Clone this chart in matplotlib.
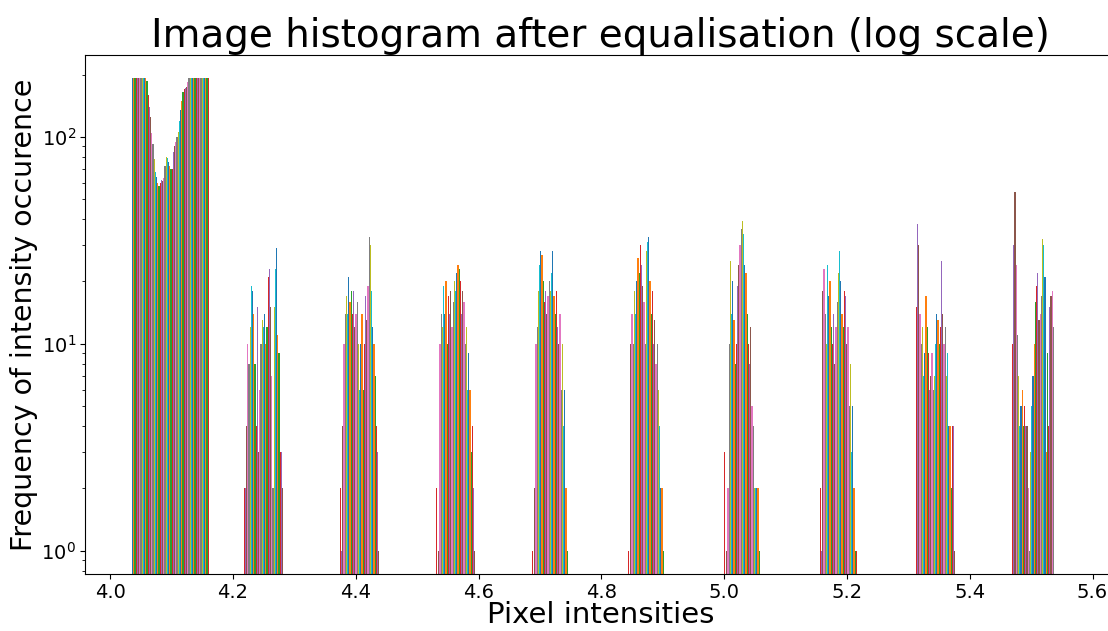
import numpy as np
import matplotlib
matplotlib.use("Agg")
import matplotlib.pyplot as plt

# histogram of the equalised image: one dataset per image column, 10 bins
N_COLS = 64
X_MIN, X_MAX = 4.020, 5.584
N_BINS = 10
FIRST_COL = 13  # bins 1..9 only have counts for the central columns

BIN0 = [192, 192, 192, 192, 192, 192, 192, 192, 192, 192, 192, 192, 186,
        160, 140, 125, 105, 92, 78, 68, 64, 60, 58, 60, 62, 61, 63, 72, 80,
        79, 76, 72, 70, 70, 85, 90, 95, 100, 106, 120, 135, 150, 165, 170,
        172, 174, 185,
        192, 192, 192, 192, 192, 192, 192, 192, 192, 192, 192, 192, 192, 192,
        192, 192, 192]
BIN1 = [2, 2, 4, 10, 8, 12, 19, 18, 14, 8, 4, 15, 3, 6, 10, 13, 12, 14, 10,
        12, 21, 23, 15, 7, 2, 15, 23, 29, 11, 9, 3, 3, 2]
BIN2 = [2, 1, 4, 10, 14, 17, 14, 21, 16, 18, 14, 18, 12, 14, 16, 10, 6, 10,
        14, 6, 10, 17, 13, 19, 33, 30, 18, 12, 10, 7, 4, 3, 1]
BIN3 = [2, 0, 1, 10, 14, 12, 19, 14, 20, 10, 17, 14, 18, 12, 16, 20, 18, 22,
        24, 23, 20, 14, 18, 16, 10, 12, 6, 9, 6, 3, 4, 2, 1]
BIN4 = [1, 0, 2, 10, 12, 18, 24, 28, 27, 20, 16, 18, 14, 17, 20, 18, 22, 28,
        17, 14, 18, 12, 10, 14, 6, 10, 4, 6, 2, 1]
BIN5 = [1, 0, 10, 14, 10, 18, 14, 20, 26, 22, 30, 24, 19, 16, 10, 28, 31, 33,
        20, 14, 18, 10, 13, 8, 10, 6, 4, 2, 2, 1]
BIN6 = [3, 0, 1, 2, 10, 25, 14, 20, 13, 8, 10, 19, 24, 30, 36, 39, 34, 24,
        22, 14, 10, 8, 12, 5, 4, 2, 2, 2, 2, 1]
BIN7 = [2, 1, 18, 23, 14, 10, 24, 17, 20, 12, 10, 14, 8, 12, 16, 22, 28, 20,
        14, 12, 18, 17, 10, 12, 5, 8, 3, 5, 2, 1, 1]
BIN8 = [15, 38, 30, 14, 10, 12, 7, 9, 17, 12, 9, 6, 7, 9, 6, 7, 10, 14, 13,
        10, 12, 25, 14, 10, 12, 7, 9, 4, 4, 2, 4, 4, 1]
BIN9 = [10, 30, 54, 24, 11, 7, 4, 5, 6, 4, 5, 4, 4, 2, 1, 3, 5, 7, 10, 16,
        19, 22, 13, 14, 17, 32, 30, 21, 3, 9, 4, 15, 17, 18, 12]

edges = np.linspace(X_MIN, X_MAX, N_BINS + 1)
centers = 0.5 * (edges[:-1] + edges[1:])

counts = np.zeros((N_BINS, N_COLS))
counts[0] = BIN0
for k, row in enumerate([BIN1, BIN2, BIN3, BIN4, BIN5, BIN6, BIN7, BIN8, BIN9], start=1):
    counts[k, FIRST_COL:FIRST_COL + len(row)] = row

values = np.repeat(centers[:, None], N_COLS, axis=1)

fig = plt.figure(figsize=(11.08, 6.31), dpi=100)
ax = fig.add_axes([85 / 1108, 57 / 631, 1031.5 / 1108, 519 / 631])
ax.hist(values, bins=edges, weights=counts, log=True)

ax.set_xlim(3.959, 5.639)
ax.set_ylim(0.77, 249)
ax.set_title("Image histogram after equalisation (log scale)", fontsize=28)
ax.set_xlabel("Pixel intensities", fontsize=21, labelpad=-1)
ax.set_ylabel("Frequency of intensity occurence", fontsize=20.5, labelpad=2)
ax.tick_params(labelsize=14, pad=3)

fig.savefig("out.png", dpi=100)
